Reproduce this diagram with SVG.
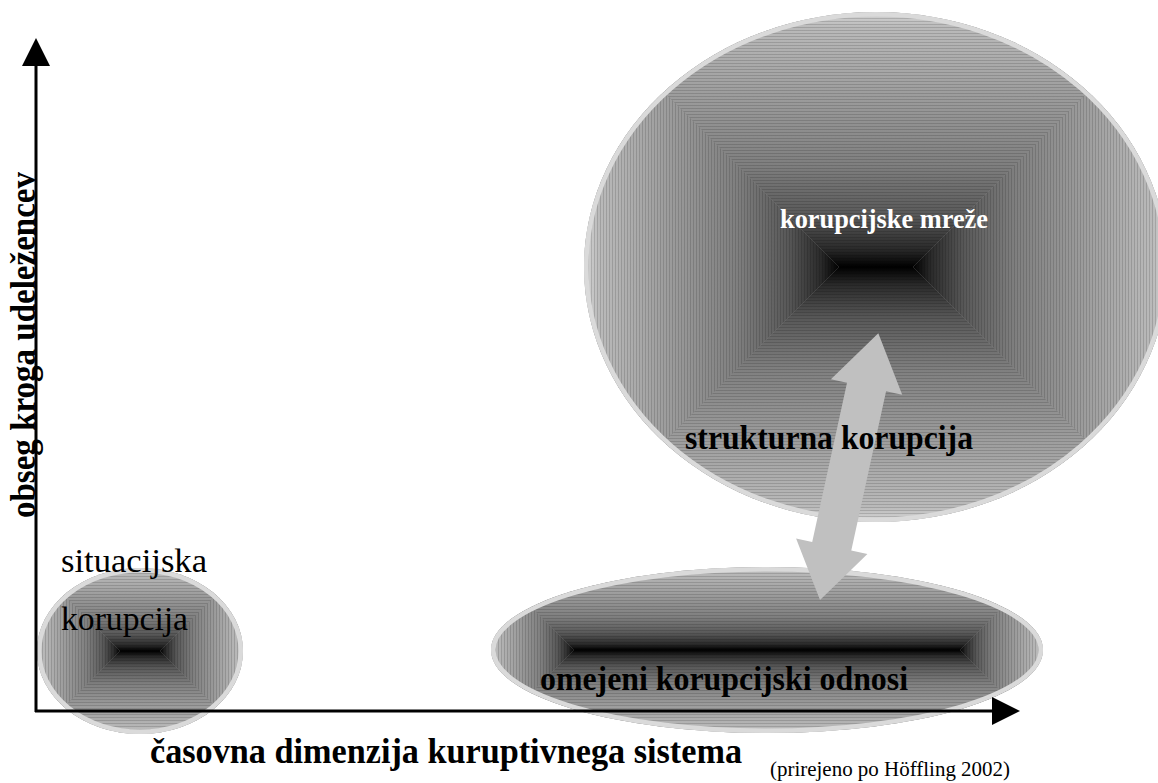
<svg xmlns="http://www.w3.org/2000/svg" width="1158" height="783" viewBox="0 0 1158 783">
<style>
.serif{font-family:"Liberation Serif","Times New Roman",serif;}
.b{font-weight:bold;}
.rim{fill:none;stroke:#dadada;stroke-width:9;}
.axis{stroke:#000;stroke-width:3;fill:none;}
</style>
<defs>
<linearGradient id="gT" x1="0" y1="0" x2="0" y2="1">
<stop offset="0" stop-color="#d6d6d6"/><stop offset="0.06" stop-color="#bababa"/><stop offset="0.35" stop-color="#9a9a9a"/><stop offset="0.6" stop-color="#7f7f7f"/><stop offset="0.8" stop-color="#585858"/><stop offset="0.93" stop-color="#2a2a2a"/><stop offset="1" stop-color="#000"/>
</linearGradient>
<linearGradient id="gB" x1="0" y1="1" x2="0" y2="0">
<stop offset="0" stop-color="#d6d6d6"/><stop offset="0.06" stop-color="#bababa"/><stop offset="0.35" stop-color="#9a9a9a"/><stop offset="0.6" stop-color="#7f7f7f"/><stop offset="0.8" stop-color="#585858"/><stop offset="0.93" stop-color="#2a2a2a"/><stop offset="1" stop-color="#000"/>
</linearGradient>
<linearGradient id="gL" x1="0" y1="0" x2="1" y2="0">
<stop offset="0" stop-color="#d6d6d6"/><stop offset="0.06" stop-color="#bababa"/><stop offset="0.35" stop-color="#9a9a9a"/><stop offset="0.6" stop-color="#7f7f7f"/><stop offset="0.8" stop-color="#585858"/><stop offset="0.93" stop-color="#2a2a2a"/><stop offset="1" stop-color="#000"/>
</linearGradient>
<linearGradient id="gR" x1="1" y1="0" x2="0" y2="0">
<stop offset="0" stop-color="#d6d6d6"/><stop offset="0.06" stop-color="#bababa"/><stop offset="0.35" stop-color="#9a9a9a"/><stop offset="0.6" stop-color="#7f7f7f"/><stop offset="0.8" stop-color="#585858"/><stop offset="0.93" stop-color="#2a2a2a"/><stop offset="1" stop-color="#000"/>
</linearGradient>
<pattern id="hs" width="4" height="3" patternUnits="userSpaceOnUse"><rect width="4" height="1" fill="#000" fill-opacity="0.14"/></pattern>
<pattern id="vs" width="3" height="4" patternUnits="userSpaceOnUse"><rect width="1" height="4" fill="#000" fill-opacity="0.14"/></pattern>
<clipPath id="cBig"><ellipse cx="876" cy="267" rx="292" ry="255"/></clipPath>
<clipPath id="cSmall"><ellipse cx="140" cy="651" rx="103" ry="83"/></clipPath>
<clipPath id="cLow"><ellipse cx="767" cy="650" rx="276" ry="83"/></clipPath>
</defs>

<g id="node-korupcijske-mreze">
<g clip-path="url(#cBig)">
<rect x="584" y="12" width="584" height="510" fill="#8a8a8a"/>
<polygon points="584,12 1168,12 913,267 839,267" fill="url(#gT)"/>
<polygon points="584,522 1168,522 913,267 839,267" fill="url(#gB)"/>
<polygon points="584,12 839,267 584,522" fill="url(#gL)"/>
<polygon points="1168,12 913,267 1168,522" fill="url(#gR)"/>
<polygon points="584,12 1168,12 913,267 839,267" fill="url(#hs)"/>
<polygon points="584,522 1168,522 913,267 839,267" fill="url(#hs)"/>
<polygon points="584,12 839,267 584,522" fill="url(#vs)"/>
<polygon points="1168,12 913,267 1168,522" fill="url(#vs)"/>
<ellipse class="rim" cx="876" cy="267" rx="292" ry="255"/>
</g>
<text class="serif b" x="780" y="228" font-size="27" fill="#fff" textLength="208" lengthAdjust="spacingAndGlyphs">korupcijske mreže</text>
</g>

<g id="node-situacijska">
<g clip-path="url(#cSmall)">
<rect x="37" y="568" width="206" height="166" fill="#8a8a8a"/>
<polygon points="37,568 243,568 160,651 120,651" fill="url(#gT)"/>
<polygon points="37,734 243,734 160,651 120,651" fill="url(#gB)"/>
<polygon points="37,568 120,651 37,734" fill="url(#gL)"/>
<polygon points="243,568 160,651 243,734" fill="url(#gR)"/>
<polygon points="37,568 243,568 160,651 120,651" fill="url(#hs)"/>
<polygon points="37,734 243,734 160,651 120,651" fill="url(#hs)"/>
<polygon points="37,568 120,651 37,734" fill="url(#vs)"/>
<polygon points="243,568 160,651 243,734" fill="url(#vs)"/>
<ellipse class="rim" cx="140" cy="651" rx="103" ry="83"/>
</g>
<text class="serif" x="61" y="572" font-size="34" fill="#000" textLength="146" lengthAdjust="spacingAndGlyphs">situacijska</text>
<text class="serif" x="61" y="630" font-size="34" fill="#000" textLength="127" lengthAdjust="spacingAndGlyphs">korupcija</text>
</g>

<g id="node-omejeni">
<g clip-path="url(#cLow)">
<rect x="491" y="567" width="552" height="166" fill="#8a8a8a"/>
<polygon points="491,567 1043,567 960,650 574,650" fill="url(#gT)"/>
<polygon points="491,733 1043,733 960,650 574,650" fill="url(#gB)"/>
<polygon points="491,567 574,650 491,733" fill="url(#gL)"/>
<polygon points="1043,567 960,650 1043,733" fill="url(#gR)"/>
<polygon points="491,567 1043,567 960,650 574,650" fill="url(#hs)"/>
<polygon points="491,733 1043,733 960,650 574,650" fill="url(#hs)"/>
<polygon points="491,567 574,650 491,733" fill="url(#vs)"/>
<polygon points="1043,567 960,650 1043,733" fill="url(#vs)"/>
<ellipse class="rim" cx="767" cy="650" rx="276" ry="83"/>
</g>
</g>

<g id="connectors">
<polygon transform="translate(849.15,466.65) rotate(12.33)" points="0,-136.5 36.5,-81.5 20,-81.5 20,81.5 36.5,81.5 0,136.5 -36.5,81.5 -20,81.5 -20,-81.5 -36.5,-81.5" fill="#c0c0c0"/>
</g>

<g id="labels">
<text class="serif b" x="685" y="449" font-size="33" fill="#000" textLength="288" lengthAdjust="spacingAndGlyphs">strukturna korupcija</text>
<text class="serif b" x="540" y="690" font-size="33" fill="#000" textLength="368" lengthAdjust="spacingAndGlyphs">omejeni korupcijski odnosi</text>
</g>

<g id="axes">
<line class="axis" x1="36" y1="712" x2="36" y2="62"/>
<polygon points="36,38 22,66 50,66" fill="#000"/>
<line class="axis" x1="35" y1="711" x2="996" y2="711"/>
<polygon points="1020,711 992,697 992,725" fill="#000"/>
<text class="serif b" transform="translate(35,518) rotate(-90)" x="0" y="0" font-size="36" fill="#000" textLength="346" lengthAdjust="spacingAndGlyphs">obseg kroga udeležencev</text>
<text class="serif b" x="150" y="763" font-size="35" fill="#000" textLength="592" lengthAdjust="spacingAndGlyphs">časovna dimenzija kuruptivnega sistema</text>
<text class="serif" x="770" y="776" font-size="21" fill="#000" textLength="240" lengthAdjust="spacingAndGlyphs">(prirejeno po Höffling 2002)</text>
</g>
</svg>
